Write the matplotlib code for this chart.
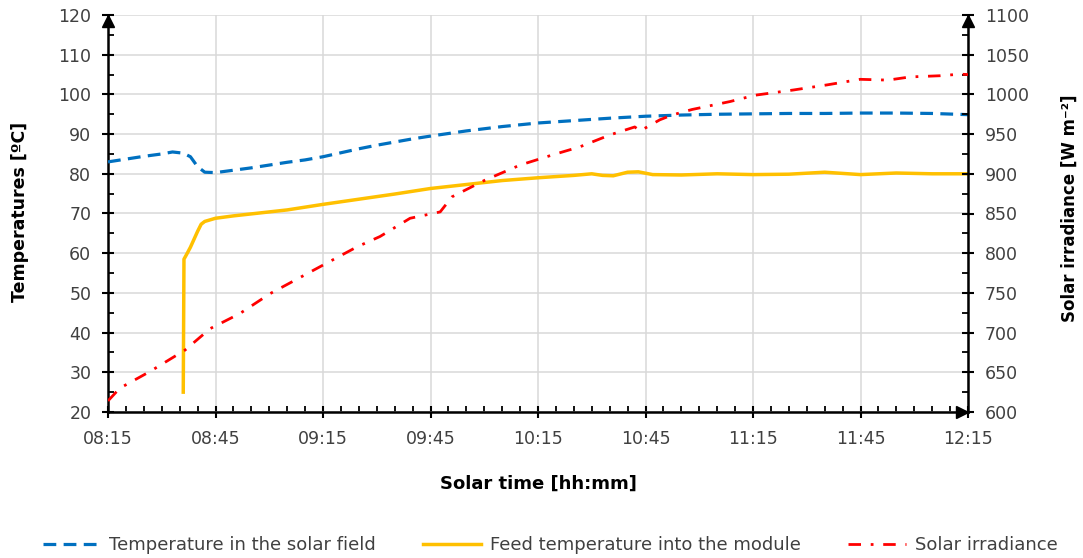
import matplotlib
matplotlib.use("Agg")
import matplotlib.pyplot as plt
import matplotlib.transforms as mtrans
from matplotlib.ticker import MultipleLocator

plt.rcParams["font.family"] = ["DejaVu Sans"]

# ---- data (minutes after 08:15) ----
blue_t = [0, 5, 10, 15, 18, 21, 23, 25, 27, 30, 35, 40, 45, 50, 55, 60, 65, 70, 75, 80,
          85, 90, 100, 110, 120, 130, 140, 150, 160, 170, 180, 190, 200, 210, 220, 230, 240]
blue_v = [83.0, 83.7, 84.4, 85.0, 85.5, 85.2, 84.3, 81.8, 80.4, 80.3, 80.9, 81.5, 82.2, 82.9,
          83.5, 84.3, 85.3, 86.3, 87.2, 88.0, 88.8, 89.5, 90.8, 91.9, 92.8, 93.4, 94.0, 94.5,
          94.8, 95.0, 95.1, 95.2, 95.2, 95.3, 95.3, 95.2, 94.9]

yel_t = [21.0, 21.2, 22, 23, 24, 25, 26, 27, 30, 35, 40, 50, 60, 70, 80, 90, 100, 110, 120,
         130, 135, 138, 141, 145, 148, 152, 160, 170, 180, 190, 200, 210, 220, 230, 240]
yel_v = [25.0, 58.5, 59.8, 61.5, 63.5, 65.5, 67.3, 68.0, 68.8, 69.4, 69.9, 70.9, 72.3, 73.6,
         74.9, 76.3, 77.3, 78.3, 79.0, 79.6, 80.0, 79.6, 79.5, 80.4, 80.5, 79.8, 79.7, 80.0,
         79.8, 79.9, 80.4, 79.8, 80.2, 80.0, 80.0]

red_t = [0, 3.3, 11.7, 21.5, 28.5, 36.8, 45.2, 60, 69.5, 75.9, 84.3, 92.7, 96, 105.2, 115,
         124.2, 131.7, 140.1, 147, 148.5, 154, 157.4, 163, 173.6, 180.6, 191.2, 200.7, 209.9,
         217.7, 223.8, 232.2, 237.8, 240]
red_v = [614, 630, 651, 678, 705, 724, 749, 785, 808, 821, 844, 852, 871, 892, 911, 924, 934,
         949, 959, 954, 968, 974, 981, 991, 999, 1005.5, 1012, 1019, 1018, 1022, 1023.5,
         1025.5, 1025]

tick_labels = ["08:15", "08:45", "09:15", "09:45", "10:15", "10:45", "11:15", "11:45", "12:15"]

W, H = 1083, 558
fig = plt.figure(figsize=(W / 100, H / 100), dpi=100)
L, R, B, T = 108, 968, 412, 15
ax = fig.add_axes([L / W, 1 - B / H, (R - L) / W, (B - T) / H])
ax2 = ax.twinx()

grid_c = "#d9d9d9"
ax.set_xlim(0, 240)
ax.set_ylim(20, 120)
ax2.set_ylim(600, 1100)
ax.set_xticks(range(0, 241, 30))
ax.set_xticklabels(tick_labels)
ax.xaxis.set_minor_locator(MultipleLocator(5))
ax.yaxis.set_major_locator(MultipleLocator(10))
ax.yaxis.set_minor_locator(MultipleLocator(5))
ax2.yaxis.set_major_locator(MultipleLocator(50))
ax2.yaxis.set_minor_locator(MultipleLocator(25))
ax.grid(True, which="major", color=grid_c, lw=1.1, zorder=0)
ax.set_axisbelow(True)

for a in (ax, ax2):
    for s in a.spines.values():
        s.set_visible(False)
ax.spines["left"].set_visible(True)
ax.spines["bottom"].set_visible(True)
ax2.spines["right"].set_visible(True)
for s in (ax.spines["left"], ax.spines["bottom"], ax2.spines["right"]):
    s.set_linewidth(1.8)
    s.set_color("black")

tc = "#404040"
fs_tick = 12.5
ax.tick_params(axis="both", which="major", direction="inout", length=8, width=1.5,
               color="black", labelsize=fs_tick, labelcolor=tc)
ax.tick_params(axis="x", which="major", pad=9)
ax.tick_params(axis="y", which="major", pad=8)
ax.tick_params(axis="both", which="minor", direction="in", length=4, width=1.3, color="black")
ax2.tick_params(axis="y", which="major", direction="inout", length=8, width=1.5,
                color="black", labelsize=fs_tick, labelcolor=tc, pad=8)
ax2.tick_params(axis="y", which="minor", direction="in", length=4, width=1.3, color="black")

ln1, = ax.plot(blue_t, blue_v, color="#0070C0", lw=2.3, dashes=(4, 2.3), zorder=3,
               label="Temperature in the solar field")
ln2, = ax.plot(yel_t, yel_v, color="#FFC000", lw=2.5, zorder=3,
               label="Feed temperature into the module")
ln3, = ax2.plot(red_t, red_v, color="#FF0000", lw=2.0, dashes=(4.5, 3.5, 1, 3.5), zorder=3,
                label="Solar irradiance")

# axis arrows
tr_up = mtrans.offset_copy(ax.transAxes, fig=fig, x=0, y=-6, units="dots")
ax.plot([0], [1], marker="^", color="black", ms=9, transform=tr_up, clip_on=False, zorder=5)
ax.plot([1], [1], marker="^", color="black", ms=9, transform=tr_up, clip_on=False, zorder=5)
tr_rt = mtrans.offset_copy(ax.transAxes, fig=fig, x=-6, y=0, units="dots")
ax.plot([1], [0], marker=">", color="black", ms=9, transform=tr_rt, clip_on=False, zorder=5)

fig.text(20 / W, 1 - 212 / H, "Temperatures [ºC]", rotation=90, ha="center", va="center",
         fontsize=12.5, fontweight="bold", color="black")
fig.text(1070 / W, 1 - 208 / H, "Solar irradiance [W m⁻²]", rotation=90, ha="center",
         va="center", fontsize=12, fontweight="bold", color="black")
fig.text(538 / W, 1 - 484 / H, "Solar time [hh:mm]", ha="center", va="center",
         fontsize=13, fontweight="bold", color="black")

fig.legend(handles=[ln1, ln2, ln3], loc="center", bbox_to_anchor=(550 / W, 1 - 545 / H),
           ncol=3, frameon=False, fontsize=13, handlelength=3.2, handletextpad=0.5,
           columnspacing=2.6, labelcolor=tc)

fig.savefig("out.png", dpi=100)
